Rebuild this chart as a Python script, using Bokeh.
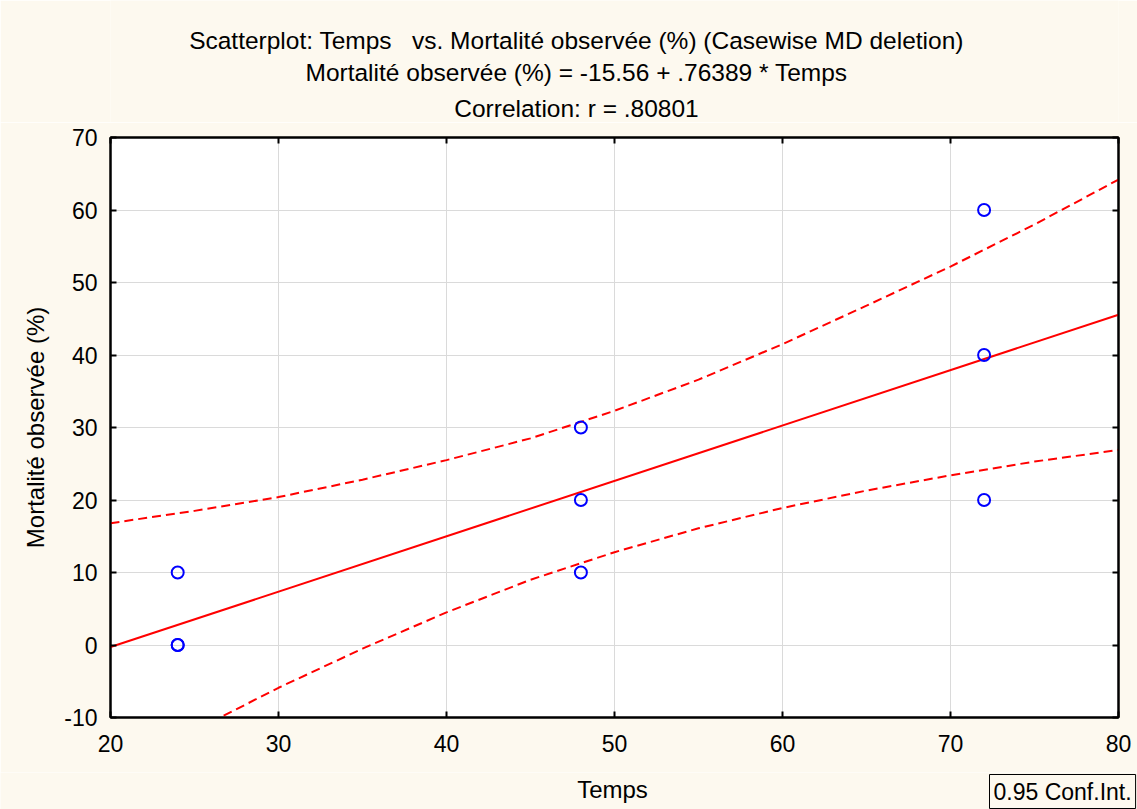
from bokeh.plotting import figure
from bokeh.models import Range1d, LinearAxis, FixedTicker, Label
from bokeh.layouts import column, row
from bokeh.embed import file_html
from bokeh.resources import INLINE

# ---- data ----
temps = [24, 24, 24, 48, 48, 48, 72, 72, 72]
mortalite = [10, 0, 0, 30, 20, 10, 60, 40, 20]

intercept = -15.56
slope = 0.76389
reg_x = [20, 80]
reg_y = [intercept + slope * v for v in reg_x]

ci_x = [20, 25, 30, 35, 40, 45, 50, 55, 60, 65, 70, 75, 80]
ci_upper = [16.8, 18.5, 20.4, 22.8, 25.5, 28.5, 32.3, 36.6, 41.5, 46.8, 52.2, 58.0, 64.2]
ci_lower = [-17.4, -11.8, -5.9, -0.5, 4.5, 9.0, 12.8, 16.1, 18.9, 21.3, 23.4, 25.3, 26.9]

x_ticks = [20, 30, 40, 50, 60, 70, 80]
y_ticks = [-10, 0, 10, 20, 30, 40, 50, 60, 70]
y_tick_labels = {v: str(v) for v in y_ticks}

title_lines = [
    "Scatterplot: Temps \u00a0\u00a0vs. Mortalité observée (%) (Casewise MD deletion)",
    "Mortalité observée (%) = -15.56 + .76389 * Temps",
    "Correlation: r = .80801",
]
x_label = "Temps"
y_label = "Mortalité observée (%)"
legend_text = "0.95 Conf.Int."

FONT = "Liberation Sans"
BG = "#FDF9EF"
W = 1137
HEADER_H = 122
FOOTER_H = 37
MAIN_H = 809 - HEADER_H - FOOTER_H
FRAME_LEFT = 110


def blank_fig(h):
    f = figure(width=W, height=h, output_backend="svg", toolbar_location=None,
               x_range=Range1d(0, 1), y_range=Range1d(0, 1),
               x_axis_location=None, y_axis_location=None,
               min_border=0, min_border_left=0, min_border_right=0,
               min_border_top=0, min_border_bottom=0)
    f.title = None
    f.outline_line_color = None
    f.background_fill_color = BG
    f.border_fill_color = BG
    f.xgrid.visible = False
    f.ygrid.visible = False
    return f


# ---- header with the three title lines (its frame is aligned with the main frame) ----
header = blank_fig(HEADER_H)
for txt, yy in zip(title_lines, [HEADER_H - 40, HEADER_H - 72, HEADER_H - 108]):
    header.add_layout(Label(x=576 - FRAME_LEFT, y=yy, x_units="screen", y_units="screen", text=txt,
                            text_align="center", text_baseline="middle",
                            text_font=FONT, text_font_size="24.5px", text_color="black"))

# ---- main plot ----
p = figure(width=W, height=MAIN_H, output_backend="svg", toolbar_location=None,
           x_range=Range1d(20, 80), y_range=Range1d(-10, 70),
           min_border_left=FRAME_LEFT, min_border_right=19, min_border_top=15,
           min_border_bottom=(HEADER_H + MAIN_H) - 717)
p.title = None
p.border_fill_color = BG
p.background_fill_color = "white"
p.outline_line_color = "black"
p.outline_line_width = 2


def style_axis(ax, labels=True):
    ax.axis_line_color = "black"
    ax.axis_line_width = 2
    ax.major_tick_in = 6
    ax.major_tick_out = 0
    ax.major_tick_line_color = "black"
    ax.major_tick_line_width = 2
    ax.minor_tick_line_color = None
    ax.major_label_text_font = FONT
    ax.major_label_text_font_size = "23px"
    ax.major_label_text_color = "black" if labels else None


style_axis(p.xaxis[0])
style_axis(p.yaxis[0])
p.xaxis[0].ticker = FixedTicker(ticks=x_ticks)
p.yaxis[0].ticker = FixedTicker(ticks=y_ticks)
p.yaxis[0].major_label_overrides = y_tick_labels
p.xaxis[0].major_label_standoff = 17
p.yaxis[0].major_label_standoff = 13
p.yaxis[0].axis_label = y_label
p.yaxis[0].axis_label_text_font = FONT
p.yaxis[0].axis_label_text_font_size = "24px"
p.yaxis[0].axis_label_text_font_style = "normal"
p.yaxis[0].axis_label_text_color = "black"
p.yaxis[0].axis_label_standoff = 12

top_ax = LinearAxis(ticker=FixedTicker(ticks=x_ticks))
style_axis(top_ax, labels=False)
top_ax.major_label_text_font_size = "0px"
top_ax.major_label_standoff = 0
right_ax = LinearAxis(ticker=FixedTicker(ticks=y_ticks))
style_axis(right_ax, labels=False)
right_ax.major_label_text_font_size = "0px"
right_ax.major_label_standoff = 0
p.add_layout(top_ax, "above")
p.add_layout(right_ax, "right")

p.xgrid.grid_line_color = "#dadada"
p.ygrid.grid_line_color = "#dadada"
p.xgrid.ticker = FixedTicker(ticks=x_ticks)
p.ygrid.ticker = FixedTicker(ticks=y_ticks)

# confidence bands
p.line(ci_x, ci_upper, line_color="#FF0000", line_width=2, line_dash="9 5")
p.line(ci_x, ci_lower, line_color="#FF0000", line_width=2, line_dash="9 5")
# regression line
p.line(reg_x, reg_y, line_color="#FF0000", line_width=2)
# points
p.scatter(temps, mortalite, marker="circle", size=12, fill_color=None,
          line_color="#0000FF", line_width=2)

# ---- footer with x label and legend box (nested so its frame spans the full width) ----
footer = blank_fig(FOOTER_H)
footer.add_layout(Label(x=612, y=FOOTER_H - 17, x_units="screen", y_units="screen", text=x_label,
                        text_align="center", text_baseline="middle",
                        text_font=FONT, text_font_size="24px", text_color="black"))
footer.add_layout(Label(x=989, y=FOOTER_H - 2, x_units="screen", y_units="screen", text=legend_text,
                        text_align="left", text_baseline="top",
                        text_font=FONT, text_font_size="23px", text_color="black",
                        border_line_color="black", border_line_width=1,
                        background_fill_color=None, padding=4))

layout = column(header, p, row(footer, spacing=0), spacing=0)
open("out.html", "w").write(file_html(layout, INLINE))
